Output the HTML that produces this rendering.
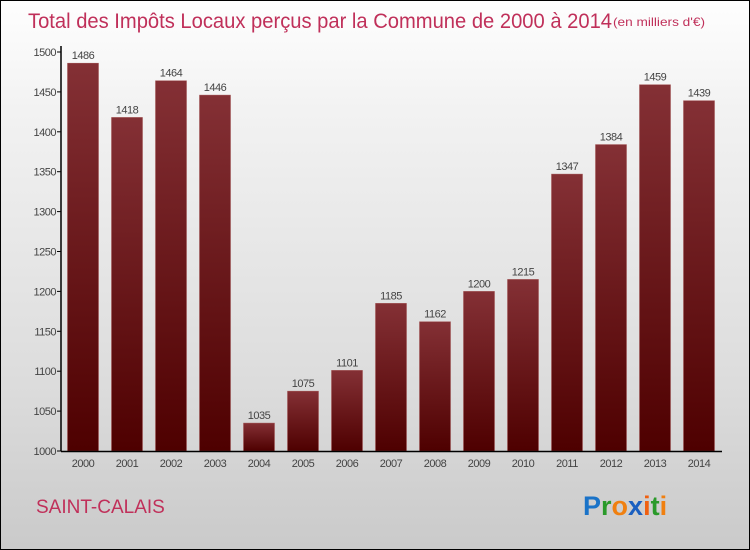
<!DOCTYPE html>
<html><head><meta charset="utf-8"><style>
body{margin:0}
#c{position:relative;width:748px;height:548px;border:1px solid #000;background:linear-gradient(#fefefe,#f2f2f2 20%,#dcdcdc 70%,#cacaca);font-family:"Liberation Sans",sans-serif;overflow:hidden}
</style></head><body>
<div id="c">
<svg width="748" height="548">
<defs><linearGradient id="g" x1="0" y1="0" x2="0" y2="1"><stop offset="0" stop-color="#843035"/><stop offset="1" stop-color="#4e0000"/></linearGradient></defs>
<text x="27" y="27" font-size="21" fill="#c0305a" textLength="584" lengthAdjust="spacingAndGlyphs">Total des Impôts Locaux perçus par la Commune de 2000 à 2014</text>
<text x="612" y="25" font-size="12" fill="#c0305a" textLength="92" lengthAdjust="spacingAndGlyphs">(en milliers d'€)</text>
<g id="plot"></g>
<text x="35" y="512" font-size="19" fill="#c0305a">SAINT-CALAIS</text>
<text x="582" y="514" font-size="27" font-weight="bold" font-family="Liberation Sans, sans-serif"><tspan fill="#1a73c8">P</tspan><tspan fill="#2a9a2a">r</tspan><tspan fill="#f08010">o</tspan><tspan fill="#1a5fc0">x</tspan><tspan fill="#f06010">i</tspan><tspan fill="#2a9a2a">t</tspan><tspan fill="#f08010">i</tspan></text>
</svg>
</div>
<script>
const years=["2000","2001","2002","2003","2004","2005","2006","2007","2008","2009","2010","2011","2012","2013","2014"];
const values=[1486,1418,1464,1446,1035,1075,1101,1185,1162,1200,1215,1347,1384,1459,1439];
const ticks=[1000,1050,1100,1150,1200,1250,1300,1350,1400,1450,1500];
const NS="http://www.w3.org/2000/svg";
const g=document.getElementById('plot');
const y=v=>450-(v-1000)*399/500;
const x=i=>82+i*44;
function mk(t,a){const e=document.createElementNS(NS,t);for(const k in a)e.setAttribute(k,a[k]);g.appendChild(e);return e;}
ticks.forEach(t=>{
 const l=mk('line',{x1:56,x2:60,y1:y(t),y2:y(t),stroke:'#000'});
 
 
 const tx=mk('text',{x:55,y:y(t)+4,'font-size':11,'text-anchor':'end',fill:'#444','letter-spacing':'-0.5'});
 tx.textContent=t;
 
 
});
values.forEach((v,i)=>{
 const r=mk('rect',{x:x(i)-15.5,y:y(v),width:31,height:450-y(v),fill:'url(#g)',stroke:'#a05050','stroke-width':0.5});
 
 
 const lb=mk('text',{x:x(i),y:y(v)-4,'font-size':11,'text-anchor':'middle',fill:'#444','letter-spacing':'-0.5'});
 lb.textContent=v;
 
 
 const yl=mk('text',{x:x(i),y:466,'font-size':11,'text-anchor':'middle',fill:'#444','letter-spacing':'-0.5'});
 yl.textContent=years[i];
 
 
});
const ya=mk('line',{x1:60,x2:60,y1:45,y2:450.5,stroke:'#000','stroke-width':1.5});


const xa=mk('line',{x1:60,x2:721,y1:450.5,y2:450.5,stroke:'#000','stroke-width':1.5});


</script>
</body></html>
